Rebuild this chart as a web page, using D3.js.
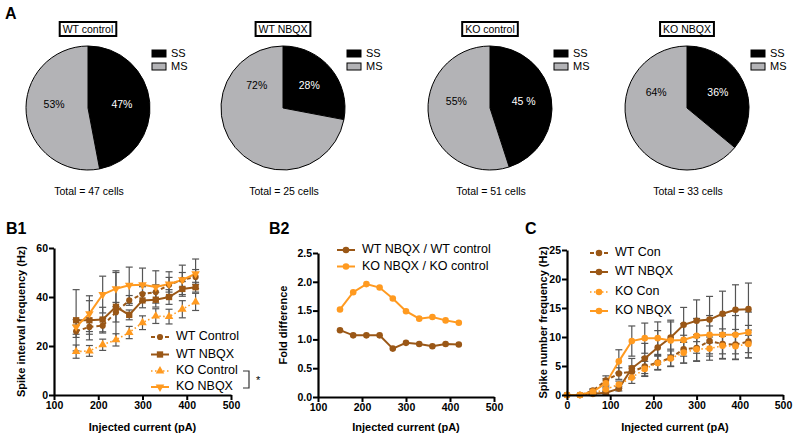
<!DOCTYPE html>
<html><head><meta charset="utf-8">
<script src="https://cdn.jsdelivr.net/npm/d3@7"></script>
<style>body{margin:0;background:#fff}svg{display:block;font-family:"Liberation Sans",Arial,Helvetica,sans-serif}</style>
</head><body><svg id="c" width="800" height="440"></svg>
<script>
// ---------- DATA ----------
const pieGroups = ["WT control", "WT NBQX", "KO control", "KO NBQX"];
const pieSS = [47, 28, 45, 36];
const pieMS = [53, 72, 55, 64];
const pieLabelsSS = ["47%", "28%", "45 %", "36%"];
const pieLabelsMS = ["53%", "72%", "55%", "64%"];
const pieTotals = ["Total = 47 cells", "Total = 25 cells", "Total = 51 cells", "Total = 33 cells"];
const pieLegend = ["SS", "MS"];

const b1Current = [150, 180, 210, 240, 270, 300, 330, 360, 390, 420];
const b1WTControl = [26.0, 27.8, 28.3, 33.8, 38.6, 41.2, 42.0, 45.0, 47.0, 48.2];
const b1WTControlErr = [2.5, 3, 3, 4, 2, 3, 3, 3, 3, 3];
const b1WTNBQX = [30.5, 30.5, 30.8, 36.0, 32.7, 38.6, 38.9, 40.0, 43.3, 44.0];
const b1WTNBQXErr = [12.5, 8, 5, 14, 2, 3, 3, 3, 3, 2];
const b1KOControl = [17.7, 18.0, 20.5, 22.5, 25.5, 29.5, 32.2, 32.0, 35.0, 38.0];
const b1KOControlErr = [2.7, 2.2, 2.3, 2.5, 2.5, 2.8, 3, 3, 3.5, 3.5];
const b1KONBQX = [27.8, 33.2, 41.0, 43.4, 44.8, 45.0, 44.1, 45.3, 47.0, 49.5];
const b1KONBQXErr = [3, 7.3, 7.5, 7.3, 7.4, 6.8, 6.6, 5, 6, 6];
const b1Names = ["WT Control", "WT NBQX", "KO Control", "KO NBQX"];
const b1XTicks = [100, 200, 300, 400, 500];
const b1YTicks = [0, 20, 40, 60];

const b2Current = [150, 180, 210, 240, 270, 300, 330, 360, 390, 420];
const b2WT = [1.16, 1.07, 1.07, 1.07, 0.84, 0.94, 0.92, 0.88, 0.92, 0.91];
const b2KO = [1.52, 1.82, 1.96, 1.90, 1.71, 1.49, 1.36, 1.39, 1.33, 1.29];
const b2Names = ["WT NBQX / WT control", "KO NBQX / KO control"];
const b2XTicks = [100, 200, 300, 400, 500];
const b2YTicks = [0, 0.5, 1.0, 1.5, 2.0, 2.5];

const cCurrent = [0, 30, 60, 90, 120, 150, 180, 210, 240, 270, 300, 330, 360, 390, 420];
const cWTCon = [0, 0, 0.75, 2.5, 3.7, 4.0, 4.9, 5.6, 6.4, 7.9, 8.1, 9.3, 8.8, 8.7, 9.2];
const cWTConErr = [0, 0, 0.3, 0.8, 1.0, 1.0, 1.6, 1.2, 1.5, 2.4, 2.3, 2.6, 2.6, 2.6, 2.8];
const cWTNBQX = [0, 0, 0.2, 0.4, 1.1, 4.6, 6.3, 8.2, 9.9, 12.1, 12.8, 13.0, 14.0, 14.7, 14.8];
const cWTNBQXErr = [0, 0, 0.3, 0.3, 0.4, 1.7, 2.6, 2.9, 3.0, 3.0, 3.6, 4.0, 3.9, 4.3, 4.5];
const cKOCon = [0, 0, 0.3, 1.0, 1.8, 3.0, 4.5, 5.5, 6.3, 7.3, 7.9, 8.0, 8.5, 8.4, 8.8];
const cKOConErr = [0, 0, 0.2, 0.4, 0.6, 1.0, 1.3, 1.2, 1.3, 1.8, 2.0, 2.0, 2.2, 2.2, 2.4];
const cKONBQX = [0, 0, 0.6, 2.0, 5.8, 9.3, 9.8, 9.8, 9.4, 9.5, 10.2, 10.4, 10.4, 10.4, 10.8];
const cKONBQXErr = [0, 0, 0.4, 0.8, 2.0, 2.6, 2.6, 2.8, 3.2, 2.8, 3.0, 3.3, 3.3, 3.3, 3.5];
const cNames = ["WT Con", "WT NBQX", "KO Con", "KO NBQX"];
const cXTicks = [0, 100, 200, 300, 400, 500];
const cYTicks = [0, 5, 10, 15, 20, 25];

// ---------- STYLE ----------
const BROWN = "#9a5716", ORANGE = "#ff9a20", ERR = "#555";
const svg = d3.select("#c");

function panelLabel(t, x, y) {
  svg.append("text").attr("x", x).attr("y", y).attr("font-size", 16).attr("font-weight", "bold").text(t);
}
panelLabel("A", 5, 19);
panelLabel("B1", 6, 234);
panelLabel("B2", 269, 234);
panelLabel("C", 525, 234);

// ---------- PIES ----------
const pieCx = [88, 283, 490, 687], pieCy = 108, R = 62;
const pie = d3.pie().sort(null).value(d => d);
const arc = d3.arc().innerRadius(0).outerRadius(R);
const labelArc = d3.arc().innerRadius(R * 0.55).outerRadius(R * 0.55);
pieGroups.forEach((g, i) => {
  const cx = pieCx[i];
  const G = svg.append("g").attr("transform", `translate(${cx},${pieCy})`);
  const arcs = pie([pieSS[i], pieMS[i]]);
  G.selectAll("path").data(arcs).join("path")
    .attr("d", arc).attr("fill", (d, j) => j === 0 ? "#000" : "#b3b3b6")
    .attr("stroke", "#000").attr("stroke-width", 1);
  const c = labelArc.centroid(arcs[0]);
  const lx = Math.abs(c[0]), ly = c[1];
  G.append("text").attr("x", lx).attr("y", ly).attr("text-anchor", "middle").attr("dominant-baseline", "middle")
    .attr("font-size", 10.5).attr("fill", "#fff").text(pieLabelsSS[i]);
  G.append("text").attr("x", -lx).attr("y", ly).attr("text-anchor", "middle").attr("dominant-baseline", "middle")
    .attr("font-size", 10.5).attr("fill", "#000").text(pieLabelsMS[i]);
  // title box
  const tt = svg.append("text").attr("x", cx).attr("y", 33).attr("text-anchor", "middle")
    .attr("font-size", 10.5).text(g);
  const bb = tt.node().getBBox();
  svg.insert("rect", "text").attr("x", bb.x - 3).attr("y", 22).attr("width", bb.width + 6).attr("height", 14)
    .attr("fill", "#fff").attr("stroke", "#000").attr("stroke-width", 2);
  // legend
  pieLegend.forEach((L, j) => {
    svg.append("rect").attr("x", cx + 64).attr("y", 50 + j * 13).attr("width", 14).attr("height", 7)
      .attr("fill", j === 0 ? "#000" : "#b3b3b6").attr("stroke", "#000").attr("stroke-width", 1);
    svg.append("text").attr("x", cx + 83).attr("y", 57 + j * 13).attr("font-size", 11).text(L);
  });
  svg.append("text").attr("x", cx + 1).attr("y", 195).attr("text-anchor", "middle").attr("font-size", 10.5).text(pieTotals[i]);
});

// ---------- LINE PANELS ----------
function symbolPath(type, size) {
  const t = { circle: d3.symbolCircle, square: d3.symbolSquare, up: d3.symbolTriangle, down: d3.symbolTriangle }[type];
  return d3.symbol().type(t).size(size)();
}
function linePanel(o) {
  const x = d3.scaleLinear().domain(o.xDom).range([o.x0, o.x1]);
  const y = d3.scaleLinear().domain(o.yDom).range([o.y0, o.y1]);
  const g = svg.append("g");
  // error bars
  o.series.forEach(s => {
    if (!s.err) return;
    s.values.forEach((v, i) => {
      const e = s.err[i]; if (!e) return;
      const xx = x(o.xs[i]);
      [v + e, v - e].forEach(t => {
        g.append("line").attr("x1", xx).attr("x2", xx).attr("y1", y(v)).attr("y2", y(t)).attr("stroke", ERR).attr("stroke-width", 1.2);
        g.append("line").attr("x1", xx - 3.5).attr("x2", xx + 3.5).attr("y1", y(t)).attr("y2", y(t)).attr("stroke", ERR).attr("stroke-width", 1.2);
      });
    });
  });
  const line = d3.line().x((d, i) => x(o.xs[i])).y(d => y(d));
  o.series.forEach(s => {
    g.append("path").attr("d", line(s.values)).attr("fill", "none").attr("stroke", s.color)
      .attr("stroke-width", s.width || 2).attr("stroke-dasharray", s.dash || null);
  });
  o.series.forEach(s => {
    s.values.forEach((v, i) => {
      g.append("path").attr("d", symbolPath(s.sym, s.size))
        .attr("transform", `translate(${x(o.xs[i])},${y(v)})${s.sym === "down" ? " rotate(180)" : ""}`)
        .attr("fill", s.color);
    });
  });
  // axes
  const ax = g.append("g").attr("transform", `translate(0,${o.y0})`)
    .call(d3.axisBottom(x).tickValues(o.xTicks).tickSize(5).tickSizeOuter(0).tickPadding(2));
  const ay = g.append("g").attr("transform", `translate(${o.x0},0)`)
    .call(d3.axisLeft(y).tickValues(o.yTicks).tickSize(5).tickSizeOuter(0).tickPadding(1).tickFormat(o.yFmt || d3.format("d")));
  [ax, ay].forEach(a => {
    a.select(".domain").attr("stroke", "#000").attr("stroke-width", 2.2);
    a.selectAll(".tick line").attr("stroke", "#000").attr("stroke-width", 2);
    a.selectAll(".tick text").attr("font-size", 10.5).attr("font-weight", "bold").attr("fill", "#000")
      .attr("font-family", '"Liberation Sans",Arial,sans-serif');
  });
  svg.append("text").attr("x", (o.x0 + o.x1) / 2).attr("y", 431).attr("text-anchor", "middle")
    .attr("font-size", 11).attr("font-weight", "bold").text("Injected current (pA)");
  svg.append("text").attr("transform", `translate(${o.yLabelX},${(o.y0 + o.y1) / 2}) rotate(-90)`)
    .attr("text-anchor", "middle").attr("font-size", 11).attr("font-weight", "bold").text(o.yLabel);
  // legend
  o.series.forEach((s, i) => {
    const ly = o.legY[i];
    svg.append("line").attr("x1", o.legX).attr("x2", o.legX + 18).attr("y1", ly).attr("y2", ly)
      .attr("stroke", s.color).attr("stroke-width", s.width || 2).attr("stroke-dasharray", s.dash || null);
    svg.append("path").attr("d", symbolPath(s.sym, s.size))
      .attr("transform", `translate(${o.legX + 9},${ly})${s.sym === "down" ? " rotate(180)" : ""}`).attr("fill", s.color);
    svg.append("text").attr("x", o.legX + 25).attr("y", ly).attr("dominant-baseline", "middle")
      .attr("font-size", 12.5).text(s.name);
  });
}

linePanel({
  xs: b1Current, xDom: [100, 500], yDom: [0, 60], x0: 54, x1: 231, y0: 395, y1: 248,
  xTicks: b1XTicks, yTicks: b1YTicks, yLabel: "Spike interval frequency (Hz)", yLabelX: 25,
  legX: 151, legY: [337, 354.5, 371, 387],
  series: [
    { name: b1Names[0], values: b1WTControl, err: b1WTControlErr, color: BROWN, dash: "4,3", sym: "circle", size: 30 },
    { name: b1Names[1], values: b1WTNBQX, err: b1WTNBQXErr, color: BROWN, sym: "square", size: 40 },
    { name: b1Names[2], values: b1KOControl, err: b1KOControlErr, color: ORANGE, dash: "1.5,2.5", width: 1.6, sym: "up", size: 32 },
    { name: b1Names[3], values: b1KONBQX, err: b1KONBQXErr, color: ORANGE, sym: "down", size: 32 }
  ]
});
// significance bracket
svg.append("path").attr("d", "M243,371H249V388H243").attr("fill", "none").attr("stroke", "#333").attr("stroke-width", 1.2);
svg.append("text").attr("x", 256).attr("y", 384).attr("font-size", 11).text("*");

linePanel({
  xs: b2Current, xDom: [100, 500], yDom: [0, 2.5], x0: 318, x1: 494, y0: 397, y1: 253,
  xTicks: b2XTicks, yTicks: b2YTicks, yFmt: d3.format(".1f"), yLabel: "Fold difference", yLabelX: 287,
  legX: 337, legY: [250, 266.5],
  series: [
    { name: b2Names[0], values: b2WT, color: BROWN, sym: "circle", size: 34 },
    { name: b2Names[1], values: b2KO, color: ORANGE, sym: "circle", size: 34 }
  ]
});

linePanel({
  xs: cCurrent, xDom: [0, 500], yDom: [0, 25], x0: 567, x1: 783, y0: 395, y1: 250,
  xTicks: cXTicks, yTicks: cYTicks, yLabel: "Spike number frequency (Hz)", yLabelX: 547,
  legX: 590, legY: [253, 272, 292, 311],
  series: [
    { name: cNames[0], values: cWTCon, err: cWTConErr, color: BROWN, dash: "4,3", sym: "circle", size: 34 },
    { name: cNames[1], values: cWTNBQX, err: cWTNBQXErr, color: BROWN, sym: "circle", size: 34 },
    { name: cNames[2], values: cKOCon, err: cKOConErr, color: ORANGE, dash: "1.5,2.5", width: 1.6, sym: "circle", size: 34 },
    { name: cNames[3], values: cKONBQX, err: cKONBQXErr, color: ORANGE, sym: "circle", size: 34 }
  ]
});
</script></body></html>
